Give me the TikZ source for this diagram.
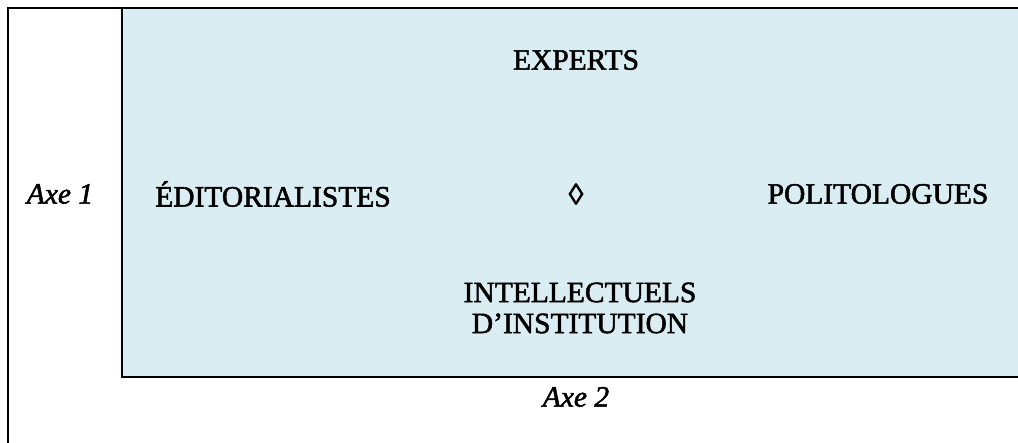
\documentclass[tikz,border=0pt]{standalone}
\usepackage{fontspec}
\setmainfont{Liberation Serif}[FakeBold=1.8]
\definecolor{panel}{HTML}{DAEDF3}
\begin{document}
\begin{tikzpicture}[x=1pt,y=-1pt,
  lab/.style={font=\fontsize{29.5}{31}\selectfont, inner sep=0pt, align=center},
  axis/.style={font=\fontsize{29.5}{31}\selectfont\itshape, inner sep=0pt},
  rule/.style={line width=2pt, black}]
\useasboundingbox (0,0) rectangle (1018,443);
\fill[panel] (122,9) rectangle (1018,377.5);
\draw[rule] (8,443) -- (8,8.5) -- (1018,8.5);
\draw[rule] (122,8.5) -- (122,377.5) -- (1018,377.5);
\node[lab] (experts) at (576,60) {EXPERTS};
\node[lab] (edit) at (273,194) {ÉDITORIALISTES};
\node[lab] (centre) at (576,194) {◊};
\node[lab] (polit) at (878,194) {POLITOLOGUES};
\node[lab] (intel) at (580,308) {INTELLECTUELS\\D’INSTITUTION};
\node[axis] (axe1) at (60,194) {Axe 1};
\node[axis] (axe2) at (576,397) {Axe 2};
\end{tikzpicture}
\end{document}
